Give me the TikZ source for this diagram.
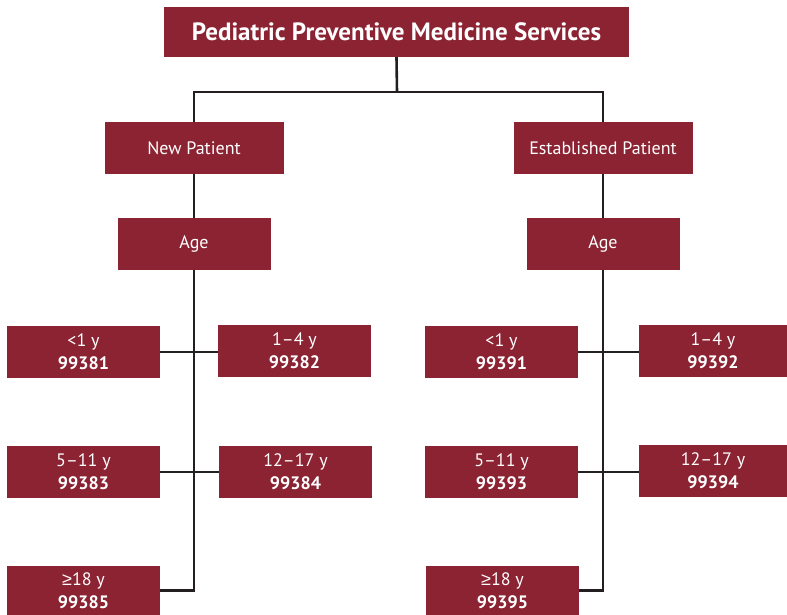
\documentclass[tikz,border=0pt]{standalone}
\usepackage{fontspec}
\setmainfont{PT Sans}
\newfontfamily\symfont{Liberation Sans}
\usepackage{tikz}
\usetikzlibrary{positioning}
\usetikzlibrary{calc}
\definecolor{boxred}{HTML}{8B2332}
\definecolor{linegray}{HTML}{231F20}

\begin{document}
\begin{tikzpicture}[x=1pt,y=-1pt,line cap=butt,line join=miter,
  box/.style={rectangle,fill=boxred,text=white,inner sep=0pt,minimum height=52pt,minimum width=153pt,align=center,font=\fontsize{18}{23}\selectfont},
  link/.style={draw=linegray,line width=2.6pt}]
\useasboundingbox (0,0) rectangle (787,615);
\node[box,minimum width=465pt,minimum height=50pt,font=\fontsize{25}{28}\selectfont\bfseries] (title) at (396.5,32) {Pediatric Preventive Medicine Services};
\node[box,minimum width=179pt] (newp) at (194,148) {New Patient};
\node[box,minimum width=179pt] (estp) at (603,148) {Established Patient};
\node[box] (agel) at (194,244) {Age};
\node[box] (ager) at (603,244) {Age};

\node[box] (nl1) at (83.5,352) {<1 y\\\textbf{99381}};
\node[box] (nl2) at (294.5,351) {1–4 y\\\textbf{99382}};
\node[box] (nl3) at (83.5,472) {5–11 y\\\textbf{99383}};
\node[box] (nl4) at (295.5,472) {12–17 y\\\textbf{99384}};
\node[box,minimum height=49pt] (nl5) at (83.5,590.5) {{\symfont ≥}18 y\\\textbf{99385}};

\node[box] (el1) at (501.5,352) {<1 y\\\textbf{99391}};
\node[box,minimum width=148pt] (el2) at (713,351) {1–4 y\\\textbf{99392}};
\node[box] (el3) at (501.5,472) {5–11 y\\\textbf{99393}};
\node[box,minimum width=148pt] (el4) at (713,471) {12–17 y\\\textbf{99394}};
\node[box,minimum height=49pt] (el5) at (502.5,590.5) {{\symfont ≥}18 y\\\textbf{99395}};

\coordinate (split) at (397,92);
\draw[link] (title.south) -- (split);
\draw[link] (split) -| (newp.north);
\draw[link] (split) -| (estp.north);
\draw[link] (newp) -- (agel);
\draw[link] (estp) -- (ager);
\draw[link] (agel.south) |- (nl5.east);
\draw[link] (ager.south) |- (el5.east);
\draw[link] (nl1.east) -- (nl2.west |- nl1.east);
\draw[link] (nl3.east) -- (nl4.west);
\draw[link] (el1.east) -- (el2.west |- el1.east);
\draw[link] (el3.east) -- (el4.west |- el3.east);
\end{tikzpicture}
\end{document}
